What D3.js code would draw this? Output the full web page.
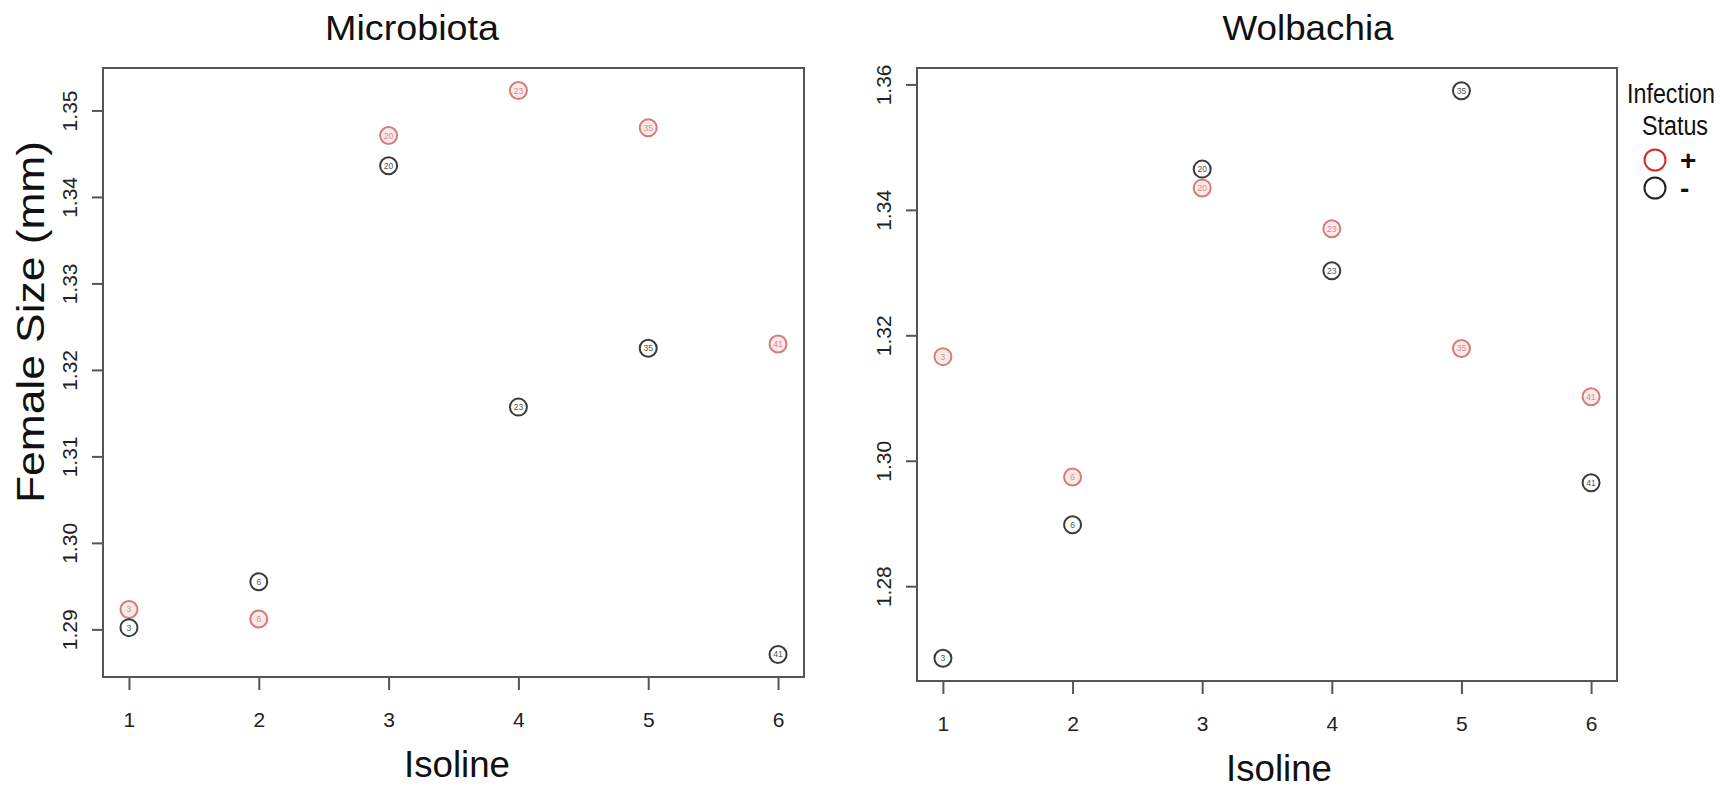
<!DOCTYPE html>
<html>
<head>
<meta charset="utf-8">
<script src="https://cdn.jsdelivr.net/npm/d3@7"></script>
<style>
  html, body { margin: 0; padding: 0; background: #fff; }
  svg { display: block; }
  text { font-family: "Liberation Sans", Arial, Helvetica, sans-serif; }
</style>
</head>
<body>
<svg id="chart" width="1728" height="790"></svg>
<script>
// Isolines on the x axis and the line IDs printed inside each point
const isolines = [1, 2, 3, 4, 5, 6];
const lineIds = ["3", "6", "20", "23", "35", "41"];

// Mean female size (mm) per isoline, by infection status
const microbiotaPlus  = [1.2923, 1.2912, 1.3471, 1.3523, 1.3480, 1.3230];
const microbiotaMinus = [1.2902, 1.2955, 1.3436, 1.3157, 1.3225, 1.2871];
const wolbachiaPlus   = [1.3166, 1.2974, 1.3435, 1.3370, 1.3179, 1.3102];
const wolbachiaMinus  = [1.2685, 1.2898, 1.3465, 1.3303, 1.3590, 1.2965];

// Axis tick values
const xTicks = [1, 2, 3, 4, 5, 6];
const microbiotaYTicks = [1.29, 1.30, 1.31, 1.32, 1.33, 1.34, 1.35];
const wolbachiaYTicks  = [1.28, 1.30, 1.32, 1.34, 1.36];

// Legend entries
const statusLabels = ["+", "-"];

const RED_PT = "#d77a7a", RED_FILL = "rgba(235,140,140,0.18)", RED_TXT = "#d78a8a";
const BLK_PT = "#3a3a3a", BLK_TXT = "#555";
const AXIS_COL = "#555";

const svg = d3.select("#chart");

// R-style 4% range expansion
function padded(values) {
  const [lo, hi] = d3.extent(values);
  const p = (hi - lo) * 0.04;
  return [lo - p, hi + p];
}

function panel(cfg) {
  const x = d3.scaleLinear().domain(padded(isolines)).range([cfg.left, cfg.right]);
  const y = d3.scaleLinear().domain(padded(cfg.plus.concat(cfg.minus))).range([cfg.bottom, cfg.top]);
  const g = svg.append("g");

  // x axis
  const xa = g.append("g")
    .attr("transform", `translate(0,${cfg.bottom})`)
    .call(d3.axisBottom(x).tickValues(xTicks).tickFormat(d3.format("d")).tickSize(13).tickPadding(0).tickSizeOuter(0));
  xa.select(".domain").remove();
  xa.selectAll(".tick line").attr("stroke", AXIS_COL).attr("stroke-width", 2);
  xa.selectAll(".tick text")
    .attr("y", 50).attr("dy", 0)
    .attr("font-size", 21).attr("fill", "#222");

  // y axis with labels parallel to the axis
  const ya = g.append("g")
    .attr("transform", `translate(${cfg.left},0)`)
    .call(d3.axisLeft(y).tickValues(cfg.yTicks).tickFormat(d3.format(".2f")).tickSize(11).tickSizeOuter(0));
  ya.select(".domain").remove();
  ya.selectAll(".tick line").attr("stroke", AXIS_COL).attr("stroke-width", 2);
  ya.selectAll(".tick text")
    .attr("transform", "rotate(-90)")
    .attr("x", 0).attr("y", -26).attr("dy", 0)
    .attr("text-anchor", "middle")
    .attr("font-size", 21).attr("fill", "#222");

  // plot frame
  g.append("rect")
    .attr("x", cfg.left).attr("y", cfg.top)
    .attr("width", cfg.right - cfg.left).attr("height", cfg.bottom - cfg.top)
    .attr("fill", "none").attr("stroke", AXIS_COL).attr("stroke-width", 2);

  // points: infected first, uninfected drawn on top
  const series = [
    { vals: cfg.plus, stroke: RED_PT, fill: RED_FILL, txt: RED_TXT },
    { vals: cfg.minus, stroke: BLK_PT, fill: "rgba(255,255,255,0.6)", txt: BLK_TXT }
  ];
  series.forEach(s => {
    const pts = g.append("g").selectAll("g")
      .data(isolines.map((iso, i) => ({ iso, v: s.vals[i], id: lineIds[i] })))
      .join("g")
      .attr("transform", d => `translate(${x(d.iso)},${y(d.v)})`);
    pts.append("circle").attr("r", 8.5)
      .attr("fill", s.fill).attr("stroke", s.stroke).attr("stroke-width", 2);
    pts.append("text").text(d => d.id)
      .attr("text-anchor", "middle").attr("dy", "0.35em")
      .attr("font-size", 8.5).attr("fill", s.txt);
  });

  // titles
  g.append("text").text(cfg.title)
    .attr("x", cfg.titleX).attr("y", 40)
    .attr("text-anchor", "middle").attr("font-size", 35).attr("fill", "#111")
    .attr("textLength", cfg.titleW).attr("lengthAdjust", "spacingAndGlyphs");
  g.append("text").text("Isoline")
    .attr("x", cfg.xLabX).attr("y", cfg.xLabY)
    .attr("text-anchor", "middle").attr("font-size", 37).attr("fill", "#111")
    .attr("textLength", 106).attr("lengthAdjust", "spacingAndGlyphs");
  return { x, y };
}

panel({
  title: "Microbiota", titleX: 412, titleW: 174,
  left: 103, right: 804, top: 68, bottom: 677,
  plus: microbiotaPlus, minus: microbiotaMinus, yTicks: microbiotaYTicks,
  xLabX: 457, xLabY: 777
});

panel({
  title: "Wolbachia", titleX: 1308, titleW: 171,
  left: 917, right: 1617, top: 68, bottom: 681,
  plus: wolbachiaPlus, minus: wolbachiaMinus, yTicks: wolbachiaYTicks,
  xLabX: 1279, xLabY: 781
});

// shared y axis title
svg.append("text").text("Female Size (mm)")
  .attr("transform", "translate(44,322) rotate(-90)")
  .attr("text-anchor", "middle").attr("font-size", 39).attr("fill", "#111")
  .attr("textLength", 362).attr("lengthAdjust", "spacingAndGlyphs");

// legend
const lg = svg.append("g");
lg.append("text").text("Infection").attr("x", 1671).attr("y", 103)
  .attr("text-anchor", "middle").attr("font-size", 27).attr("fill", "#111")
  .attr("textLength", 88).attr("lengthAdjust", "spacingAndGlyphs");
lg.append("text").text("Status").attr("x", 1675).attr("y", 135)
  .attr("text-anchor", "middle").attr("font-size", 27).attr("fill", "#111")
  .attr("textLength", 66).attr("lengthAdjust", "spacingAndGlyphs");
const legY = d3.scalePoint().domain(statusLabels).range([160, 188]);
const legColor = d3.scaleOrdinal().domain(statusLabels).range(["#d42a2a", "#222"]);
const items = lg.selectAll("g.item").data(statusLabels).join("g")
  .attr("class", "item")
  .attr("transform", d => `translate(1655,${legY(d)})`);
items.append("circle").attr("r", 10.5)
  .attr("fill", "none").attr("stroke", d => legColor(d)).attr("stroke-width", 2);
items.append("text").text(d => d)
  .attr("x", 25).attr("dy", "0.36em")
  .attr("font-size", 28).attr("font-weight", "bold").attr("fill", "#111");
</script>
</body>
</html>
